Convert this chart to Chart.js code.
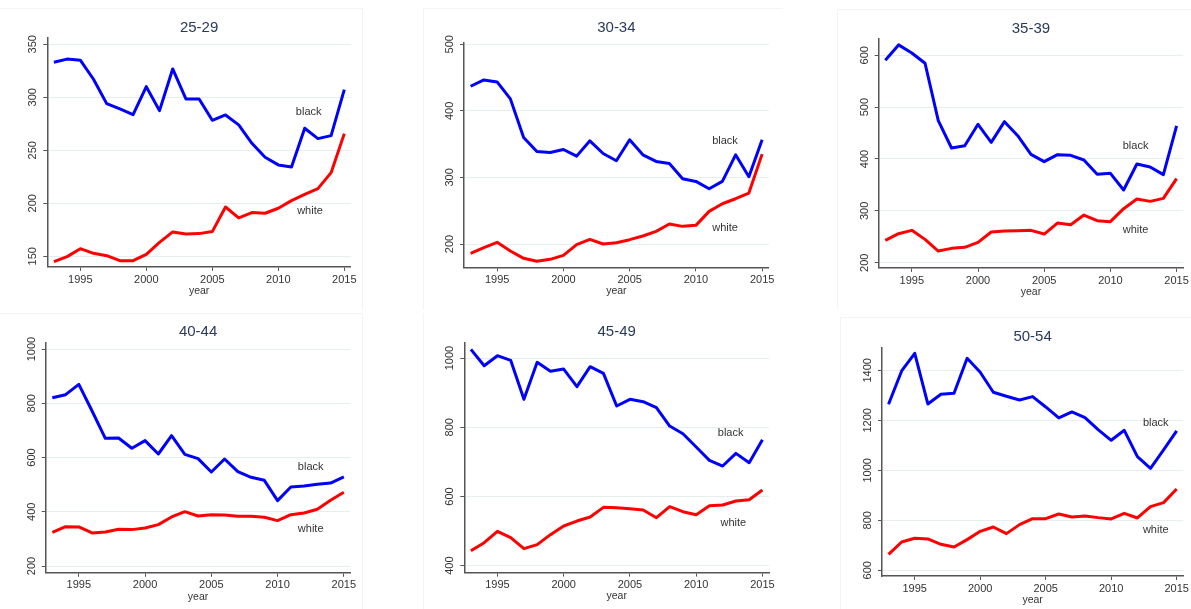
<!DOCTYPE html>
<html>
<head>
<meta charset="utf-8">
<script src="https://cdn.jsdelivr.net/npm/chart.js@4.4.0/dist/chart.umd.min.js"></script>
<style>
  body { margin: 0; background: #fff; width: 1191px; height: 609px; position: relative; overflow: hidden; }
  .cell { position: absolute; }
  .edge { position: absolute; background: #f2f5f6; }
</style>
</head>
<body>
<script>
// years and x tick labels
const years = [1993, 1994, 1995, 1996, 1997, 1998, 1999, 2000, 2001, 2002, 2003, 2004,
               2005, 2006, 2007, 2008, 2009, 2010, 2011, 2012, 2013, 2014, 2015];
const xTicks = [1995, 2000, 2005, 2010, 2015];

// 25-29
const black2529 = [333, 336, 335, 317, 294, 289, 283.6, 310, 287.4, 326.7, 298.4, 298.4, 278.3, 283.3, 274, 256.6, 243.4, 236.2, 234.3, 270.8, 261, 263.8, 307.2];
const white2529 = [145, 149.7, 157.2, 152.8, 150.6, 145.9, 145.9, 151.9, 163.2, 173, 171, 171.4, 173.3, 196.5, 186.2, 191.2, 190.6, 195.3, 202.5, 208.5, 213.8, 228.9, 265.7];
const ticks2529 = [150, 200, 250, 300, 350];

// 30-34
const black3034 = [437, 446.5, 443.5, 418, 360, 339, 337.5, 342, 332, 355, 336, 325, 356.5, 334, 324, 321, 298, 294, 283, 294, 334, 301, 356.5];
const white3034 = [186, 194.5, 202.5, 189.5, 178.5, 174, 177, 183, 199, 207, 200, 202, 206.5, 212, 219, 230, 226.5, 228, 249, 260.5, 268, 276.5, 335];
const ticks3034 = [200, 300, 400, 500];

// 35-39
const black3539 = [590.4, 620, 604.5, 584.6, 474, 421.2, 425.7, 466.9, 432, 472, 445, 409, 394.9, 408.4, 407, 398, 370.4, 372.3, 340.2, 390.4, 384.6, 369.8, 463.7];
const white3539 = [243.1, 256, 262.4, 245, 222.5, 227.7, 229.6, 239.2, 259.2, 261.1, 261.7, 262.4, 255.3, 276.5, 273.3, 292, 281, 279.1, 304.2, 322.8, 318.3, 324.1, 362.1];
const ticks3539 = [200, 300, 400, 500, 600];

// 40-44
const black4044 = [820.6, 831.7, 869.8, 771.5, 670.8, 672, 634, 662.2, 613, 680.6, 611.8, 595.8, 546.7, 594.6, 547.9, 527, 516, 441, 491.4, 495, 501.2, 506, 528.3];
const white4044 = [324.3, 345.2, 344, 321.9, 325.6, 335.4, 334.2, 340.3, 352.6, 380.8, 400.5, 384.5, 389.4, 388.2, 383.3, 383.3, 379.6, 367.3, 389.4, 395.6, 409.1, 442.3, 471.7];
const ticks4044 = [200, 400, 600, 800, 1000];

// 45-49
const black4549 = [1025, 977.8, 1006.7, 993.3, 880.6, 987.5, 961.5, 968.2, 917.2, 975, 955.7, 861.3, 880.6, 873.8, 856.5, 803.5, 781.4, 742.8, 704.3, 688, 724.5, 697.6, 764];
const white4549 = [443.3, 466.4, 499.2, 480.9, 449.1, 460.7, 489.6, 514.6, 529, 540.6, 568.5, 567.6, 564.7, 560.8, 538.7, 570.4, 556, 547.3, 573.3, 575.3, 586.8, 590.7, 618.6];
const ticks4549 = [400, 600, 800, 1000];

// 50-54
const black5054 = [1264, 1397.3, 1468, 1265.3, 1304, 1308, 1448, 1392, 1312, 1296, 1281.3, 1294.7, 1253.3, 1209.3, 1233.3, 1210.7, 1162.7, 1120, 1160, 1054.7, 1008, 1081.3, 1157.3];
const white5054 = [664, 713.3, 728, 725.3, 704, 693.3, 722.7, 756, 773.3, 746.7, 782.7, 806.7, 806.7, 825.3, 813.3, 817.3, 810.7, 805.3, 828, 809.3, 854.7, 870.7, 925.3];
const ticks5054 = [600, 800, 1000, 1200, 1400];

// layout: cell = [x, y, w, h], area = [left, top, right, bottom] in page pixels
const panels = [
  { title: '25-29', black: black2529, white: white2529, yTicks: ticks2529, yMin: 140, yMax: 356,
    cell: [0, 0, 397, 304], area: [47.3, 37.9, 350.9, 266.9], titleY: 28, blackAt: [2012.3, 286.5], whiteAt: [2012.4, 193] },
  { title: '30-34', black: black3034, white: white3034, yTicks: ticks3034, yMin: 165, yMax: 503,
    cell: [397, 0, 397, 304], area: [464, 42.3, 768.75, 267.3], titleY: 28, blackAt: [2012.2, 355.5], whiteAt: [2012.2, 223.5] },
  { title: '35-39', black: black3539, white: white3539, yTicks: ticks3539, yMin: 190, yMax: 631,
    cell: [794, 0, 397, 304], area: [878.7, 39.2, 1183.45, 267.9], titleY: 29.3, blackAt: [2011.9, 425.7], whiteAt: [2011.9, 263.7] },
  { title: '40-44', black: black4044, white: white4044, yTicks: ticks4044, yMin: 175, yMax: 1023,
    cell: [0, 304, 397, 305], area: [45.7, 342.8, 350.45, 572.8], titleY: 332.3, blackAt: [2012.5, 566], whiteAt: [2012.5, 335.4] },
  { title: '45-49', black: black4549, white: white4549, yTicks: ticks4549, yMin: 380, yMax: 1044,
    cell: [397, 304, 397, 305], area: [464.3, 342.8, 769.05, 572.6], titleY: 332.3, blackAt: [2012.6, 784.3], whiteAt: [2012.8, 524.2] },
  { title: '50-54', black: black5054, white: white5054, yTicks: ticks5054, yMin: 577, yMax: 1490,
    cell: [794, 304, 397, 305], area: [882, 347.8, 1186.75, 576.05], titleY: 337.3, blackAt: [2013.4, 1190.7], whiteAt: [2013.4, 761.3] }
];

// faint frames round the original panels
const edges = [
  [0, 8, 362, 1], [362, 8, 1, 302],
  [423, 8, 360, 1], [423, 8, 1, 302],
  [837, 9, 354, 1], [837, 9, 1, 300],
  [0, 313, 362, 1], [362, 313, 1, 296],
  [423, 313, 1, 296],
  [840, 317, 351, 1], [840, 317, 1, 292]
];
edges.forEach(e => {
  const d = document.createElement('div');
  d.className = 'edge';
  d.style.left = e[0] + 'px'; d.style.top = e[1] + 'px';
  d.style.width = e[2] + 'px'; d.style.height = e[3] + 'px';
  document.body.appendChild(d);
});

const FONT = '"Liberation Sans", Arial, sans-serif';
const Y_W = 20, X_H = 30;

function makePanel(p) {
  const [cx, cy, cw, ch] = p.cell;
  const [L, T, R, B] = p.area;

  const div = document.createElement('div');
  div.className = 'cell';
  div.style.left = cx + 'px'; div.style.top = cy + 'px';
  div.style.width = cw + 'px'; div.style.height = ch + 'px';
  const canvas = document.createElement('canvas');
  canvas.width = cw; canvas.height = ch;
  div.appendChild(canvas);
  document.body.appendChild(div);

  // titles, rotated y labels and series labels
  const textPlugin = {
    id: 'panelText',
    afterDraw(chart) {
      const ctx = chart.ctx;
      const xs = chart.scales.x, ys = chart.scales.y;
      const area = chart.chartArea;
      const mid = (area.left + area.right) / 2;
      ctx.save();
      ctx.fillStyle = '#2a3a5c';
      ctx.font = '15px ' + FONT;
      ctx.textAlign = 'center';
      ctx.textBaseline = 'middle';
      ctx.fillText(p.title, mid, p.titleY - cy);

      ctx.fillStyle = '#333';
      ctx.font = '11px ' + FONT;
      p.yTicks.forEach(v => {
        ctx.save();
        ctx.translate(area.left - 14, ys.getPixelForValue(v));
        ctx.rotate(-Math.PI / 2);
        ctx.fillText(String(v), 0, 0);
        ctx.restore();
      });
      ctx.font = '10.5px ' + FONT;
      ctx.fillText('year', mid, area.bottom + 24);

      ctx.font = '11px ' + FONT;
      ctx.fillText('black', xs.getPixelForValue(p.blackAt[0]), ys.getPixelForValue(p.blackAt[1]));
      ctx.fillText('white', xs.getPixelForValue(p.whiteAt[0]), ys.getPixelForValue(p.whiteAt[1]));
      ctx.restore();
    }
  };

  new Chart(canvas.getContext('2d'), {
    type: 'line',
    data: {
      datasets: [
        { label: 'black', data: years.map((y, i) => ({ x: y, y: p.black[i] })),
          borderColor: '#0000ff', borderWidth: 3, pointRadius: 0, tension: 0, borderJoinStyle: 'round' },
        { label: 'white', data: years.map((y, i) => ({ x: y, y: p.white[i] })),
          borderColor: '#ff0000', borderWidth: 3, pointRadius: 0, tension: 0, borderJoinStyle: 'round' }
      ]
    },
    options: {
      responsive: false,
      animation: false,
      devicePixelRatio: 1,
      layout: {
        padding: {
          left: L - cx - Y_W,
          top: T - cy,
          right: cx + cw - R,
          bottom: cy + ch - B - X_H
        }
      },
      plugins: { legend: { display: false }, tooltip: { enabled: false } },
      scales: {
        x: {
          type: 'linear',
          min: 1992.5,
          max: 2015.5,
          afterBuildTicks: s => { s.ticks = xTicks.map(v => ({ value: v })); },
          afterFit: s => { s.height = X_H; },
          ticks: { color: '#333', font: { family: FONT, size: 11 }, padding: 2, maxRotation: 0, callback: v => String(v) },
          grid: { drawOnChartArea: false, tickLength: 4, tickColor: '#555' },
          border: { color: '#555', width: 1.5 }
        },
        y: {
          min: p.yMin,
          max: p.yMax,
          afterBuildTicks: s => { s.ticks = p.yTicks.map(v => ({ value: v })); },
          afterFit: s => { s.width = Y_W; },
          ticks: { display: false },
          grid: { color: '#e6eef0', lineWidth: 1, tickLength: 4, tickColor: '#555' },
          border: { color: '#555', width: 1.5 }
        }
      }
    },
    plugins: [textPlugin]
  });
}

panels.forEach(makePanel);
</script>
</body>
</html>
